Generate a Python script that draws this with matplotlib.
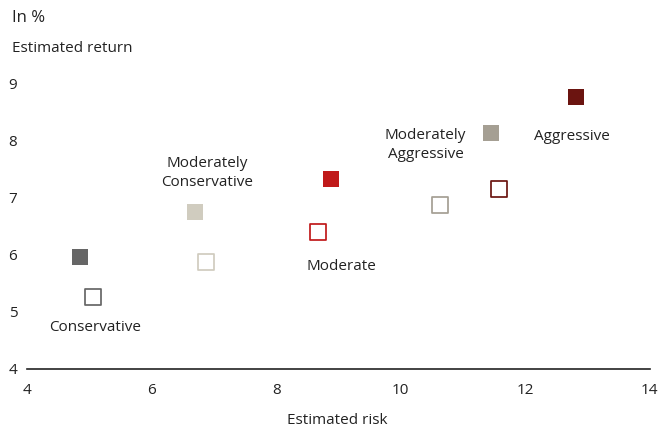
import matplotlib
matplotlib.use('Agg')
import matplotlib.pyplot as plt

plt.rcParams['font.family'] = ['Open Sans', 'DejaVu Sans']

# portfolio profiles: filled = current estimate, hollow = previous estimate
profiles = ['Conservative', 'Moderately\nConservative', 'Moderate',
            'Moderately\nAggressive', 'Aggressive']
colors = ['#666666', '#d0ccbf', '#c0191a', '#a59f93', '#6b1410']
risk_now = [4.85, 6.70, 8.88, 11.45, 12.81]
return_now = [5.95, 6.74, 7.32, 8.13, 8.76]
risk_prev = [5.06, 6.87, 8.67, 10.63, 11.58]
return_prev = [5.26, 5.87, 6.40, 6.87, 7.15]

# label anchor (risk, return) for each profile
label_x = [5.1, 6.9, 9.05, 10.4, 12.75]
label_y = [4.73, 7.43, 5.80, 7.92, 8.06]

fig = plt.figure(figsize=(6.59, 4.30), dpi=100)
ax = fig.add_axes([0.041, 0.142, 0.945, 0.731])

for i in range(len(profiles)):
    ax.scatter(risk_now[i], return_now[i], marker='s', s=130, color=colors[i],
               linewidths=0, zorder=3)
    ax.scatter(risk_prev[i], return_prev[i], marker='s', s=135, facecolor='white',
               edgecolor=colors[i], linewidths=1.25, zorder=3)
    ax.text(label_x[i], label_y[i], profiles[i], ha='center', va='center',
            fontsize=11, color='#222222', linespacing=1.3)

ax.set_xlim(4, 14)
ax.set_ylim(4, 9.5)
ax.set_xticks([4, 6, 8, 10, 12, 14])
ax.set_yticks([4, 5, 6, 7, 8, 9])
ax.tick_params(axis='both', length=0, labelsize=11, colors='#222222')
ax.tick_params(axis='x', pad=10)
ax.tick_params(axis='y', pad=7)

for side in ['top', 'right', 'left']:
    ax.spines[side].set_visible(False)
ax.spines['bottom'].set_color('#222222')
ax.spines['bottom'].set_linewidth(1.2)

fig.text(12 / 659, 1 - 18 / 430, 'In %', fontsize=12, color='#222222', va='center')
fig.text(12 / 659, 1 - 48 / 430, 'Estimated return', fontsize=11, color='#222222',
         va='center')
fig.text(337 / 659, 1 - 421 / 430, 'Estimated risk', fontsize=11, color='#222222',
         ha='center', va='center')

fig.savefig('out.png', dpi=100)
